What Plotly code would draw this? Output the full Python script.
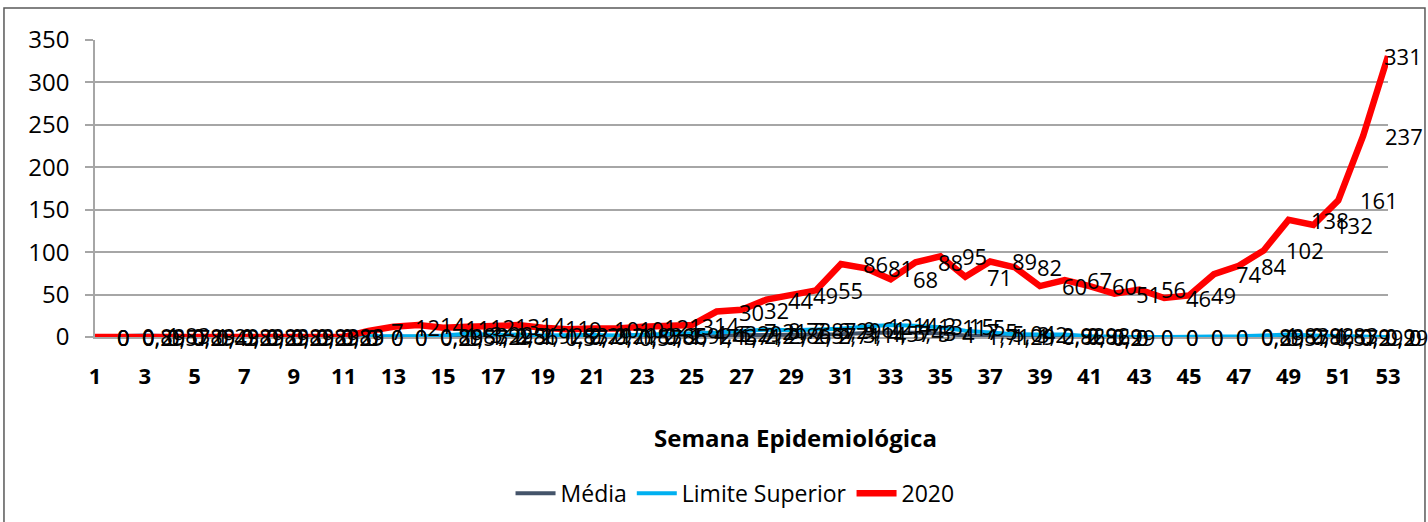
import plotly.graph_objects as go

weeks = list(range(1, 54))
x_tick_vals = weeks[::2]
x_tick_text = [str(w) for w in x_tick_vals]

media = [0, 0.29, 0.57, 0.29, 0.43, 0.29, 0.29, 0.29, 0.29, 0.29,
         0, 0, 0, 0.29, 0.57, 1.29, 0.86, 1.0, 0.57, 0.71,
         0.71, 0.57, 0.86, 1.0, 1.43, 1.71, 2.29, 2.86, 2.57, 2.71,
         3.14, 4.57, 5.43, 5.0, 4.0, 1.71, 1.29, 1.0, 0.86, 0.86,
         0.29, 0, 0, 0, 0, 0, 0.29, 0.57, 0.86, 0.57,
         0.29, 0.29, 0]

limite = [0, 0.83, 1.83, 0.83, 1.29, 0.83, 0.83, 0.83, 0.83, 0.83,
          0, 0, 0, 0.83, 1.83, 3.92, 2.51, 2.92, 1.83, 2.29,
          2.29, 1.83, 2.65, 2.92, 4.62, 5.29, 7.21, 8.73, 7.87, 8.29,
          9.61, 12.4, 14.2, 13.15, 11.5, 7.5, 5.04, 3.2, 2.92, 2.92,
          0.9, 0, 0, 0, 0, 0, 0.83, 1.83, 2.92, 1.83,
          0.9, 0.9, 0]

y2020 = [0, 0, 0, 0, 0, 0, 0, 0, 0, 0,
         0, 7, 12, 14, 11, 12, 13, 14, 11, 9,
         10, 10, 12, 13, 14, 30, 32, 44, 49, 55,
         86, 81, 68, 88, 95, 71, 89, 82, 60, 67,
         60, 51, 56, 46, 49, 74, 84, 102, 138, 132,
         161, 237, 331]

series = [
    ("Média", media, "#44546A", 4),
    ("Limite Superior", limite, "#00B0F0", 4),
    ("2020", y2020, "#FF0000", 6.5),
]

FONT = "Open Sans"


def fmt(v):
    s = f"{v:.2f}".rstrip("0").rstrip(".")
    return s.replace(".", ",")


fig = go.Figure()
for name, vals, color, width in series:
    fig.add_trace(go.Scatter(
        x=weeks, y=vals, name=name, mode="lines",
        line=dict(color=color, width=width),
        cliponaxis=False,
    ))

annotations = []
last = weeks[-1]
for name, vals, color, width in series:
    for w, v in zip(weeks, vals):
        if w == last:
            xa, xs = "right", 36
        else:
            xa, xs = "left", 20
        annotations.append(dict(
            x=w, y=v, xref="x", yref="y", text=fmt(v), showarrow=False,
            xanchor=xa, yanchor="middle", xshift=xs,
            font=dict(family=FONT, size=22, color="#000000"),
        ))

annotations.append(dict(
    x=0.542, y=-0.34, xref="paper", yref="paper",
    text="<b>Semana Epidemiológica</b>", showarrow=False,
    xanchor="center", yanchor="middle",
    font=dict(family=FONT, size=24, color="#000000"),
))

fig.update_layout(
    width=1428, height=522,
    margin=dict(l=95, r=40, t=40, b=185, autoexpand=False),
    paper_bgcolor="white", plot_bgcolor="white",
    showlegend=True,
    legend=dict(
        orientation="h", x=0.495, xanchor="center",
        yref="container", y=0.055, yanchor="middle",
        font=dict(family=FONT, size=23, color="#000000"),
        itemwidth=40, tracegroupgap=0,
    ),
    annotations=annotations,
    shapes=[dict(
        type="rect", xref="paper", yref="paper",
        x0=-0.0704, x1=1.0286, y0=-0.7, y1=1.1077,
        line=dict(color="#595959", width=1.5), fillcolor="rgba(0,0,0,0)",
        layer="below",
    )],
)

fig.update_xaxes(
    range=[1, 53],
    tickvals=x_tick_vals, ticktext=x_tick_text,
    tickfont=dict(family=FONT, size=22, color="#000000", weight="bold"),
    showgrid=False, zeroline=False,
    showline=True, linecolor="#A6A6A6", linewidth=1.5,
    ticks="", ticklabelstandoff=19,
)
fig.update_yaxes(
    range=[0, 350], dtick=50,
    tickfont=dict(family=FONT, size=24, color="#000000"),
    showgrid=True, gridcolor="#A6A6A6", gridwidth=1.5,
    zeroline=False,
    showline=True, linecolor="#A6A6A6", linewidth=1.5,
    ticks="outside", ticklen=8, tickcolor="#A6A6A6", tickwidth=1.5,
    ticklabelstandoff=11,
)

fig.write_html(
    "out.html",
    config={"displayModeBar": False},
    post_script="document.body.style.margin='0';document.body.style.overflow='hidden';",
)
